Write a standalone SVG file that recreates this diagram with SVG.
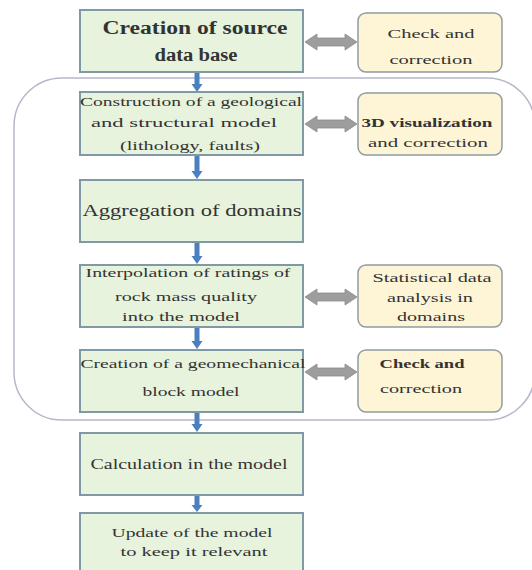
<svg xmlns="http://www.w3.org/2000/svg" width="532" height="570" viewBox="0 0 532 570">
<defs>
<style>
.g{fill:#e7f3dd;stroke:#7f9aa6;stroke-width:2}
.y{fill:#fdf5d6;stroke:#8f9ca2;stroke-width:1.5}
.t{font-family:"Liberation Serif","Times New Roman",serif;fill:#333;text-anchor:middle}
.blue{fill:#4a7fc0}
.grey{fill:#9d9d9d;stroke:#8a8a8a;stroke-width:0.8}
.cont{fill:none;stroke:#b7b7cb;stroke-width:1.5}
</style>
<path id="dbl" d="M0,0 L12,-8 L12,-4 L40,-4 L40,-8 L52,0 L40,8 L40,4 L12,4 L12,8 Z"/>
<path id="down" d="M-2.5,0 L2.5,0 L2.5,-8 L5,-8 L0,0 Z"/>
</defs>
<rect width="532" height="570" fill="#ffffff"/>
<rect class="cont" x="14" y="78" width="521" height="342" rx="48" ry="48"/>
<g id="connectors">
<polygon class="blue" points="194.5,73 199.5,73 199.5,84 202.5,84 197,92 191.5,84 194.5,84"/>
<polygon class="blue" points="194.5,156 199.5,156 199.5,171 202.5,171 197,179 191.5,171 194.5,171"/>
<polygon class="blue" points="194.5,243 199.5,243 199.5,256 202.5,256 197,264 191.5,256 194.5,256"/>
<polygon class="blue" points="194.5,328 199.5,328 199.5,341 202.5,341 197,349 191.5,341 194.5,341"/>
<polygon class="blue" points="194.5,413 199.5,413 199.5,424 202.5,424 197,432 191.5,424 194.5,424"/>
<polygon class="blue" points="194.5,496 199.5,496 199.5,505 202.5,505 197,512 191.5,505 194.5,505"/>
<use href="#dbl" class="grey" x="305" y="42"/>
<use href="#dbl" class="grey" x="305" y="124"/>
<use href="#dbl" class="grey" x="305" y="297"/>
<use href="#dbl" class="grey" x="305" y="372"/>
</g>
<g id="n1"><rect class="g" x="80" y="10" width="223" height="62"/>
<text class="t" x="195" y="34" font-size="18" font-weight="bold" textLength="185" lengthAdjust="spacingAndGlyphs">Creation of source</text>
<text class="t" x="196" y="61" font-size="18" font-weight="bold" textLength="83" lengthAdjust="spacingAndGlyphs">data base</text></g>
<g id="n2"><rect class="g" x="80" y="92" width="223" height="63"/>
<text class="t" x="191" y="106" font-size="13" textLength="222" lengthAdjust="spacingAndGlyphs">Construction of a geological</text>
<text class="t" x="184" y="127" font-size="13" textLength="186" lengthAdjust="spacingAndGlyphs">and structural model</text>
<text class="t" x="190" y="150" font-size="13" textLength="140" lengthAdjust="spacingAndGlyphs">(lithology, faults)</text></g>
<g id="n3"><rect class="g" x="80" y="180" width="223" height="62"/>
<text class="t" x="192" y="216" font-size="16" textLength="219" lengthAdjust="spacingAndGlyphs">Aggregation of domains</text></g>
<g id="n4"><rect class="g" x="80" y="265" width="223" height="62"/>
<text class="t" x="188" y="277" font-size="13" textLength="205" lengthAdjust="spacingAndGlyphs">Interpolation of ratings of</text>
<text class="t" x="186" y="301" font-size="13" textLength="142" lengthAdjust="spacingAndGlyphs">rock mass quality</text>
<text class="t" x="181" y="321" font-size="13" textLength="118" lengthAdjust="spacingAndGlyphs">into the model</text></g>
<g id="n5"><rect class="g" x="80" y="350" width="223" height="62"/>
<text class="t" x="193" y="368" font-size="13" textLength="225" lengthAdjust="spacingAndGlyphs">Creation of a geomechanical</text>
<text class="t" x="191" y="396" font-size="13" textLength="97" lengthAdjust="spacingAndGlyphs">block model</text></g>
<g id="n6"><rect class="g" x="80" y="433" width="223" height="62"/>
<text class="t" x="189" y="469" font-size="14" textLength="197" lengthAdjust="spacingAndGlyphs">Calculation in the model</text></g>
<g id="n7"><rect class="g" x="80" y="513" width="223" height="64"/>
<text class="t" x="192" y="537" font-size="13" textLength="161" lengthAdjust="spacingAndGlyphs">Update of the model</text>
<text class="t" x="194" y="556" font-size="13" textLength="147" lengthAdjust="spacingAndGlyphs">to keep it relevant</text></g>
<g id="a1"><rect class="y" x="358" y="13" width="144" height="59" rx="8"/>
<text class="t" x="431" y="38" font-size="12" textLength="87" lengthAdjust="spacingAndGlyphs">Check and</text>
<text class="t" x="431" y="64" font-size="12" textLength="83" lengthAdjust="spacingAndGlyphs">correction</text></g>
<g id="a2"><rect class="y" x="358" y="93" width="144" height="62" rx="8"/>
<text class="t" x="427" y="127" font-size="13" font-weight="bold" textLength="131" lengthAdjust="spacingAndGlyphs">3D visualization</text>
<text class="t" x="428" y="147" font-size="13" textLength="120" lengthAdjust="spacingAndGlyphs">and correction</text></g>
<g id="a3"><rect class="y" x="358" y="265" width="144" height="62" rx="8"/>
<text class="t" x="432" y="282" font-size="12" textLength="119" lengthAdjust="spacingAndGlyphs">Statistical data</text>
<text class="t" x="430" y="302" font-size="12" textLength="86" lengthAdjust="spacingAndGlyphs">analysis in</text>
<text class="t" x="431" y="321" font-size="12" textLength="68" lengthAdjust="spacingAndGlyphs">domains</text></g>
<g id="a4"><rect class="y" x="358" y="350" width="144" height="62" rx="8"/>
<text class="t" x="422" y="368" font-size="12" font-weight="bold" textLength="85" lengthAdjust="spacingAndGlyphs">Check and</text>
<text class="t" x="421" y="393" font-size="12" textLength="82" lengthAdjust="spacingAndGlyphs">correction</text></g>
</svg>
